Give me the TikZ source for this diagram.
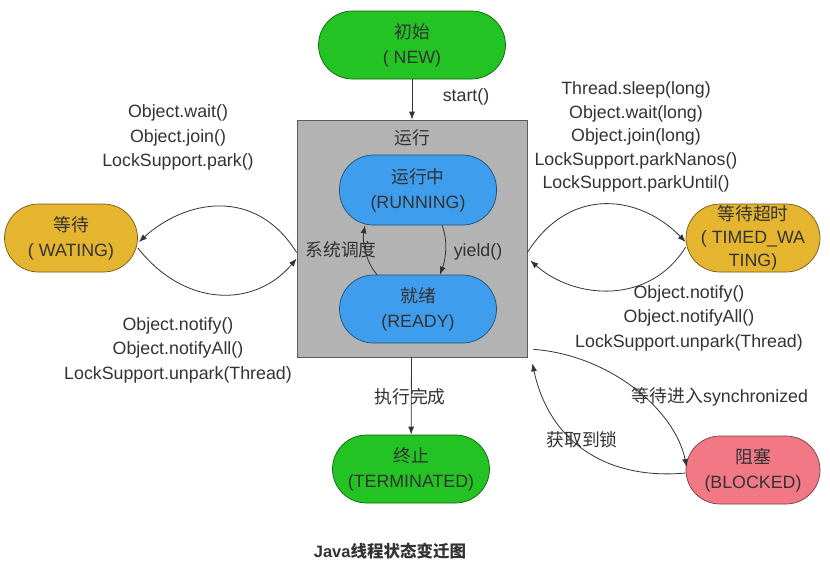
\documentclass[tikz,border=0pt]{standalone}
\usepackage{fontspec}
\setmainfont{Liberation Sans}
\newfontfamily\cjk{Noto Sans CJK SC}
\usetikzlibrary{arrows.meta,calc}
\definecolor{cgreen}{HTML}{22C322}
\definecolor{cblue}{HTML}{3E9DEC}
\definecolor{cgold}{HTML}{E5B530}
\definecolor{cpink}{HTML}{F27886}
\definecolor{cgray}{HTML}{B3B3B3}
\definecolor{ctext}{HTML}{333333}
\begin{document}
\begin{tikzpicture}[x=1pt,y=-1pt,
  every node/.style={text=ctext},
  stbox/.style={draw=#1!50!black, fill=#1, rounded corners=34pt, minimum height=68pt,
    align=center, inner sep=0pt, line width=0.7pt, font=\fontsize{17.8}{25}\selectfont},
  lbl/.style={align=center, font=\fontsize{17.8}{24.5}\selectfont, inner sep=0pt},
  arr/.style={draw=ctext, line width=0.8pt, -{Latex[length=8pt,width=6pt]}},
]
\useasboundingbox[fill=white] (0,0) rectangle (830,576);

% states
\node[stbox=cgreen, minimum width=187pt] (new) at (412,45) {{\cjk 初始}\\( NEW)};
\node[draw=ctext!80, fill=cgray, minimum width=230pt, minimum height=237pt, line width=0.7pt, inner sep=0pt] (box) at (412,238.5) {};
\node[lbl] (boxt) at (412,138) {\cjk 运行};
\node[stbox=cblue, minimum width=157pt, minimum height=70pt] (running) at (418,190) {{\cjk 运行中}\\(RUNNING)};
\node[stbox=cblue, minimum width=157pt] (ready) at (418,309) {{\cjk 就绪}\\(READY)};
\node[stbox=cgold, minimum width=133pt] (wait) at (71,238) {{\cjk 等待}\\( WATING)};
\node[stbox=cgold, minimum width=134pt, font=\fontsize{17.8}{23}\selectfont] (timed) at (753,238) {{\cjk 等待超时}\\( TIMED\_WA\\TING)};
\node[stbox=cgreen, minimum width=157pt] (term) at (411,469) {{\cjk 终止}\\(TERMINATED)};
\node[stbox=cpink, minimum width=134pt] (blocked) at (753,470) {{\cjk 阻塞}\\(BLOCKED)};

% labels
\node[lbl] (lstart) at (466,97) {start()};
\node[lbl] (lwait) at (178,137.5) {Object.wait()\\Object.join()\\LockSupport.park()};
\node[lbl] (lnotl) at (178,350) {Object.notify()\\Object.notifyAll()\\LockSupport.unpark(Thread)};
\node[lbl, font=\fontsize{17.8}{23.4}\selectfont] (ltimed) at (636,137) {Thread.sleep(long)\\Object.wait(long)\\Object.join(long)\\LockSupport.parkNanos()\\LockSupport.parkUntil()};
\node[lbl] (lnotr) at (689,318) {Object.notify()\\Object.notifyAll()\\LockSupport.unpark(Thread)};
\node[lbl] (lyield) at (478,252) {yield()};
\node[lbl] (lsched) at (341,250) {\cjk 系统调度};
\node[lbl] (lfin) at (410,397) {\cjk 执行完成};
\node[lbl] (lsync) at (720,397) {{\cjk 等待进入}synchronized};
\node[lbl] (lacq) at (582,440) {\cjk 获取到锁};
\node[lbl, font=\bfseries\fontsize{16.5}{18}\selectfont] (cap) at (390,551) {Java{\cjk\bfseries 线程状态变迁图}};

% connectors
\draw[arr] (new) -- (box);
\draw[arr] (box) -- (term);
\draw[arr] ($(running.south)+(24,0)$) .. controls (448,240) and (446,258) .. ($(ready.north)+(22,0)$);
\draw[arr] ($(ready.north)+(-41,0)$) .. controls (366,262) and (362,242) .. ($(running.south)+(-53,0)$);
\draw[arr] ($(box.west)+(0,14)$) .. controls (255,186) and (185,200) .. ($(wait.east)+(1,4)$);
\draw[arr] ($(wait.east)+(0,10)$) .. controls (185,308) and (255,308) .. ($(box.west)+(0,20)$);
\draw[arr] ($(box.east)+(0,14)$) .. controls (570,185) and (640,195) .. ($(timed.west)+(0,4)$);
\draw[arr] ($(timed.west)+(0,9)$) .. controls (650,305) and (575,300) .. ($(box.east)+(3,22)$);
\draw[arr] ($(box.south east)+(6,-8)$) .. controls (610,355) and (675,410) .. ($(blocked.west)+(1,-3)$);
\draw[arr] ($(blocked.west)+(0,3)$) .. controls (610,480) and (550,445) .. ($(box.south east)+(5,6)$);
\end{tikzpicture}
\end{document}
